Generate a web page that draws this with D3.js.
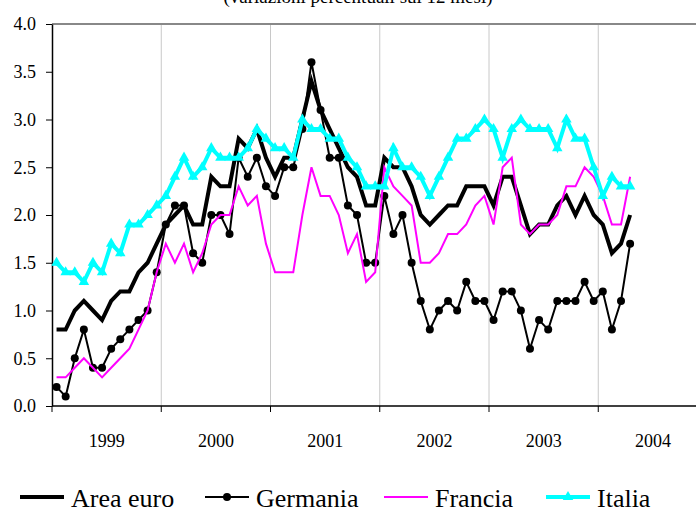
<!DOCTYPE html>
<html>
  <head>
    <style>
      body { margin: 0; background: #fff; }
      svg text { font-family: 'Liberation Serif', 'Times New Roman', serif; fill: #000; }
    </style>
    <script src="https://d3js.org/d3.v7.min.js"></script>
  </head>
  <body>
    <svg id="chart" width="696" height="512"></svg>
  </body>
  <script>
    // months Jan 1999 - Apr 2004, year-on-year % changes
    var years = ['1999', '2000', '2001', '2002', '2003', '2004'];
    var monthNames = ['gen', 'feb', 'mar', 'apr', 'mag', 'giu', 'lug', 'ago', 'set', 'ott', 'nov', 'dic'];
    var yTicks = [0, 0.5, 1, 1.5, 2, 2.5, 3, 3.5, 4];

    var areaEuro = [
      0.8, 0.8, 1.0, 1.1, 1.0, 0.9, 1.1, 1.2, 1.2, 1.4, 1.5, 1.7,
      1.9, 2.0, 2.1, 1.9, 1.9, 2.4, 2.3, 2.3, 2.8, 2.7, 2.9, 2.6,
      2.4, 2.6, 2.6, 3.0, 3.4, 3.1, 2.9, 2.7, 2.5, 2.4, 2.1, 2.1,
      2.6, 2.5, 2.5, 2.3, 2.0, 1.9, 2.0, 2.1, 2.1, 2.3, 2.3, 2.3,
      2.1, 2.4, 2.4, 2.1, 1.8, 1.9, 1.9, 2.1, 2.2, 2.0, 2.2, 2.0,
      1.9, 1.6, 1.7, 2.0
    ];
    var germania = [
      0.2, 0.1, 0.5, 0.8, 0.4, 0.4, 0.6, 0.7, 0.8, 0.9, 1.0, 1.4,
      1.9, 2.1, 2.1, 1.6, 1.5, 2.0, 2.0, 1.8, 2.6, 2.4, 2.6, 2.3,
      2.2, 2.5, 2.5, 2.9, 3.6, 3.1, 2.6, 2.6, 2.1, 2.0, 1.5, 1.5,
      2.2, 1.8, 2.0, 1.5, 1.1, 0.8, 1.0, 1.1, 1.0, 1.3, 1.1, 1.1,
      0.9, 1.2, 1.2, 1.0, 0.6, 0.9, 0.8, 1.1, 1.1, 1.1, 1.3, 1.1,
      1.2, 0.8, 1.1, 1.7
    ];
    var francia = [
      0.3, 0.3, 0.4, 0.5, 0.4, 0.3, 0.4, 0.5, 0.6, 0.8, 1.0, 1.4,
      1.7, 1.5, 1.7, 1.4, 1.6, 1.9, 2.0, 2.0, 2.3, 2.1, 2.2, 1.7,
      1.4, 1.4, 1.4, 2.0, 2.5, 2.2, 2.2, 2.0, 1.6, 1.8, 1.3, 1.4,
      2.5, 2.3, 2.2, 2.1, 1.5, 1.5, 1.6, 1.8, 1.8, 1.9, 2.1, 2.2,
      1.9, 2.5, 2.6, 1.9, 1.8, 1.9, 1.9, 2.0, 2.3, 2.3, 2.5, 2.4,
      2.2, 1.9, 1.9, 2.4
    ];
    var italia = [
      1.5, 1.4, 1.4, 1.3, 1.5, 1.4, 1.7, 1.6, 1.9, 1.9, 2.0, 2.1,
      2.2, 2.4, 2.6, 2.4, 2.5, 2.7, 2.6, 2.6, 2.6, 2.7, 2.9, 2.8,
      2.7, 2.7, 2.6, 3.0, 2.9, 2.9, 2.8, 2.8, 2.6, 2.5, 2.3, 2.3,
      2.3, 2.7, 2.5, 2.5, 2.4, 2.2, 2.4, 2.6, 2.8, 2.8, 2.9, 3.0,
      2.9, 2.6, 2.9, 3.0, 2.9, 2.9, 2.9, 2.7, 3.0, 2.8, 2.8, 2.5,
      2.2, 2.4, 2.3, 2.3
    ];

    var months = [];
    years.forEach((yr) => monthNames.forEach((m) => months.push(m + ' ' + yr)));

    var series = [
      { name: 'Area euro', values: areaEuro, color: '#000', width: 4, marker: null },
      { name: 'Germania', values: germania, color: '#000', width: 2, marker: 'circle' },
      { name: 'Francia', values: francia, color: '#ff00ff', width: 2, marker: null },
      { name: 'Italia', values: italia, color: '#00ffff', width: 4, marker: 'triangle' }
    ];

    var serif = "'Liberation Serif', 'Times New Roman', serif";
    var svg = d3.select('#chart');
    var plotLeft = 52, plotRight = 707.5, plotTop = 24, plotBottom = 406;

    var x = d3.scaleBand().domain(months).range([plotLeft, plotRight]);
    var xYear = d3.scaleBand().domain(years).range([plotLeft, plotRight]);
    var y = d3.scaleLinear().domain([0, 4]).range([plotBottom, plotTop]);

    // title, mostly cut off at the top
    svg.append('text')
      .attr('x', 358)
      .attr('y', 3)
      .attr('text-anchor', 'middle')
      .style('font-family', serif)
      .style('font-size', '19px')
      .text('(variazioni percentuali sui 12 mesi)');

    // year gridlines
    svg.append('g')
      .selectAll('line')
      .data(years.slice(1))
      .join('line')
      .attr('x1', (d) => xYear(d))
      .attr('x2', (d) => xYear(d))
      .attr('y1', plotTop)
      .attr('y2', plotBottom)
      .attr('stroke', '#c8c8c8')
      .attr('stroke-width', 1);

    // top border
    svg.append('line')
      .attr('x1', plotLeft).attr('x2', 696)
      .attr('y1', plotTop).attr('y2', plotTop)
      .attr('stroke', '#888').attr('stroke-width', 2);

    // y axis
    var yAxis = svg.append('g')
      .attr('transform', `translate(${plotLeft},0)`)
      .call(d3.axisLeft(y).tickValues(yTicks).tickFormat(d3.format('.1f')).tickSize(6).tickSizeOuter(0).tickPadding(10))
      .attr('font-family', null)
      .attr('font-size', null);
    yAxis.select('.domain').attr('stroke-width', 1.5);
    yAxis.selectAll('text').style('font-family', serif).style('font-size', '18px');

    // x axis: boundary ticks + year labels
    var xAxis = svg.append('g')
      .attr('transform', `translate(0,${plotBottom})`);
    xAxis.append('line')
      .attr('x1', plotLeft).attr('x2', plotRight)
      .attr('stroke', '#000').attr('stroke-width', 1.5);
    xAxis.selectAll('.bt')
      .data(years)
      .join('line')
      .attr('class', 'bt')
      .attr('x1', (d) => xYear(d)).attr('x2', (d) => xYear(d))
      .attr('y1', 0).attr('y2', 6)
      .attr('stroke', '#000');
    xAxis.selectAll('.yl')
      .data(years)
      .join('text')
      .attr('class', 'yl')
      .attr('x', (d) => xYear(d) + xYear.bandwidth() / 2)
      .attr('y', 41)
      .attr('text-anchor', 'middle')
      .style('font-family', serif)
      .style('font-size', '18px')
      .text((d) => d);

    var cx = (i) => x(months[i]) + x.bandwidth() / 2;
    var line = d3.line().x((d, i) => cx(i)).y((d) => y(d));
    var tri = d3.symbol().type(d3.symbolTriangle).size(48);

    series.forEach((s) => {
      var g = svg.append('g');
      g.append('path')
        .datum(s.values)
        .attr('fill', 'none')
        .attr('stroke', s.color)
        .attr('stroke-width', s.width)
        .attr('stroke-linejoin', 'miter')
        .attr('d', line);
      if (s.marker === 'circle') {
        g.selectAll('circle')
          .data(s.values)
          .join('circle')
          .attr('cx', (d, i) => cx(i))
          .attr('cy', (d) => y(d))
          .attr('r', 4)
          .attr('fill', s.color);
      }
      if (s.marker === 'triangle') {
        g.selectAll('path.m')
          .data(s.values)
          .join('path')
          .attr('class', 'm')
          .attr('transform', (d, i) => `translate(${cx(i)},${y(d)})`)
          .attr('d', tri)
          .attr('fill', s.color);
      }
    });

    // legend
    var legX = [20, 205, 384, 546];
    var legY = 497;
    var leg = svg.append('g');
    series.forEach((s, k) => {
      var g = leg.append('g').attr('transform', `translate(${legX[k]},${legY})`);
      g.append('line')
        .attr('x1', 0).attr('x2', 44)
        .attr('stroke', s.color)
        .attr('stroke-width', s.width);
      if (s.marker === 'circle') {
        g.append('circle').attr('cx', 22).attr('r', 4).attr('fill', s.color);
      }
      if (s.marker === 'triangle') {
        g.append('path').attr('transform', 'translate(22,0)').attr('d', tri).attr('fill', s.color);
      }
      g.append('text')
        .attr('x', 51)
        .attr('y', 10)
        .style('font-family', serif)
        .style('font-size', '26px')
        .text(s.name);
    });
  </script>
</html>
